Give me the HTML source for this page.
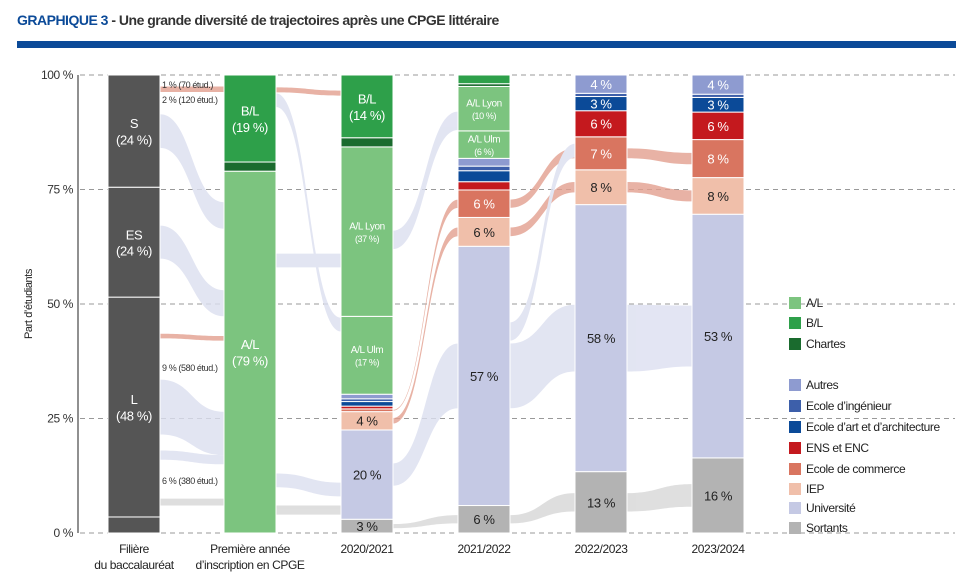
<!DOCTYPE html>
<html><head><meta charset="utf-8">
<style>
body{margin:0;background:#fff;width:963px;height:576px;overflow:hidden;font-family:"Liberation Sans Narrow","Liberation Sans",sans-serif;}
#title{position:absolute;left:17px;top:12px;font-size:14px;font-weight:bold;color:#333;letter-spacing:-0.5px}
#title span{color:#0b4a98}
#rule{position:absolute;left:17px;top:41px;width:939px;height:7px;background:#0b4a98}
svg{position:absolute;left:0;top:0}
svg text{letter-spacing:-0.4px}
</style></head><body>
<div id="title"><span>GRAPHIQUE 3</span> - Une grande diversité de trajectoires après une CPGE littéraire</div>
<div id="rule"></div>
<svg id="chart" width="963" height="576"></svg>
<script>
const columns=["Filière|du baccalauréat","Première année|d’inscription en CPGE","2020/2021","2021/2022","2022/2023","2023/2024"];
const col0Cats=["Autre","L","ES","S"];
const col0Vals=[3.5,48,24,24.5];
const col0Labels=["","L|(48 %)","ES|(24 %)","S|(24 %)"];
const col1Cats=["A/L","Chartes","B/L"];
const col1Vals=[79,2,19];
const col1Labels=["A/L|(79 %)","","B/L|(19 %)"];
const col2Cats=["Sortants","Université","IEP","Ecole de commerce","ENS et ENC","Ecole d’art","Ecole d’ingénieur","Autres","A/L Ulm","A/L Lyon","Chartes","B/L"];
const col2Vals=[3,19.5,4,0.6,0.6,1,0.6,1,17,37,2,13.7];
const col2Labels=["3 %","20 %","4 %","","","","","","A/L Ulm|(17 %)","A/L Lyon|(37 %)","","B/L|(14 %)"];
const col3Cats=["Sortants","Université","IEP","Ecole de commerce","ENS et ENC","Ecole d’art","Ecole d’ingénieur","Autres","A/L Ulm","A/L Lyon","Chartes","B/L"];
const col3Vals=[6,56.6,6.3,6,1.8,2.4,1,1.7,6,9.7,0.6,1.9];
const col3Labels=["6 %","57 %","6 %","6 %","","","","","A/L Ulm|(6 %)","A/L Lyon|(10 %)","",""];
const col4Cats=["Sortants","Université","IEP","Ecole de commerce","ENS et ENC","Ecole d’art","Ecole d’ingénieur","Autres"];
const col4Vals=[13.4,58.3,7.6,7.2,5.7,3.1,0.7,4];
const col4Labels=["13 %","58 %","8 %","7 %","6 %","3 %","","4 %"];
const col5Cats=["Sortants","Université","IEP","Ecole de commerce","ENS et ENC","Ecole d’art","Ecole d’ingénieur","Autres"];
const col5Vals=[16.4,53.2,8,8.3,6,3.2,0.7,4.2];
const col5Labels=["16 %","53 %","8 %","8 %","6 %","3 %","","4 %"];
const yTicks=[0,25,50,75,100];
const legendCats=["A/L","B/L","Chartes","","Autres","Ecole d’ingénieur","Ecole d’art et d’architecture","ENS et ENC","Ecole de commerce","IEP","Université","Sortants"];

const colors={"Autre":"#555555","L":"#555555","ES":"#555555","S":"#555555","A/L":"#7cc47f","A/L Ulm":"#7cc47f","A/L Lyon":"#7cc47f","B/L":"#2ea04a","Chartes":"#1a6b2e","Autres":"#8e9bd0","Ecole d’ingénieur":"#3d5faa","Ecole d’art":"#0b4a98","Ecole d’art et d’architecture":"#0b4a98","ENS et ENC":"#c4191e","Ecole de commerce":"#d97560","IEP":"#f0bfaa","Université":"#c5c9e4","Sortants":"#b3b3b3"};
const darkText={"IEP":1,"Université":1,"Sortants":1};
const Y0=533,Y1=75;
function y(v){return Y0-(Y0-Y1)*v/100;}
const colX=[108,224,341,458,575,692],BW=52;
const svg=document.getElementById('chart');
const NS="http://www.w3.org/2000/svg";
function el(t,a,p){const e=document.createElementNS(NS,t);for(const k in a)e.setAttribute(k,a[k]);(p||svg).appendChild(e);return e;}

const gGrid=el('g',{});
yTicks.forEach(t=>{
  const l=el('line',{x1:80,x2:955,y1:y(t),y2:y(t),stroke:'#999','stroke-dasharray':'5,4','stroke-width':1},gGrid);
  
  
  const tx=el('text',{x:73,y:y(t)+4,'text-anchor':'end','font-size':12,fill:'#333'},gGrid);
  tx.textContent=t+' %';
  
  
});
const ax=el('line',{x1:78,x2:78,y1:y(100),y2:y(0),stroke:'#222','stroke-width':1});


const yt=el('text',{x:0,y:0,transform:'translate(32,304) rotate(-90)','text-anchor':'middle','font-size':11,fill:'#222'});
yt.textContent='Part d’étudiants';



const cols=[[col0Cats,col0Vals,col0Labels],[col1Cats,col1Vals,col1Labels],[col2Cats,col2Vals,col2Labels],[col3Cats,col3Vals,col3Labels],[col4Cats,col4Vals,col4Labels],[col5Cats,col5Vals,col5Labels]];
const pos=cols.map(c=>{let acc=0;const m={};c[0].forEach((k,i)=>{m[k]=[acc,acc+c[1][i]];acc+=c[1][i];});return m;});

const gFlow=el('g',{opacity:0.8});
function ribbon(ci,a,b,color){
  const x0=colX[ci]+BW,x1=colX[ci+1],mx=(x0+x1)/2;
  const p=`M${x0},${y(a[1])} C${mx},${y(a[1])} ${mx},${y(b[1])} ${x1},${y(b[1])} L${x1},${y(b[0])} C${mx},${y(b[0])} ${mx},${y(a[0])} ${x0},${y(a[0])} Z`;
  const r=el('path',{d:p,fill:color},gFlow);
  
  
}
function shrink(s,f){const c=(s[0]+s[1])/2,h=(s[1]-s[0])*f/2;return [c-h,c+h];}
[['S',0.3],['ES',0.3],['L',0.25]].forEach(([k,f])=>{const s=pos[0][k];ribbon(0,shrink(s,f),shrink([s[0]*0.79,s[1]*0.79],f),'#dcdff0');});
ribbon(0,[96.3,97.5],[96.3,97.5],'#e3a08f');
ribbon(0,[42.5,43.5],[42,43],'#e3a08f');
ribbon(0,[6,7.5],[6,7.5],'#d7d7d7');
ribbon(0,[16,18],[15,17],'#dcdff0');
ribbon(1,[93,96],[44,47],'#dcdff0');
ribbon(1,[58,61],[58,61],'#dcdff0');
ribbon(1,[96.2,97.3],[95.5,96.6],'#e3a08f');
ribbon(1,[4,6],[4,6],'#d7d7d7');
ribbon(1,[10,13],[8,11],'#dcdff0');
[2,3,4].forEach(ci=>{
  ["Sortants","Université","IEP","Ecole de commerce"].forEach(k=>{
    const a=pos[ci][k],b=pos[ci+1][k];if(!a||!b)return;
    const f=k==="Université"?0.25:0.3;
    ribbon(ci,shrink(a,f),shrink(b,f),k==="Université"?'#dcdff0':k==="Sortants"?'#d7d7d7':'#e3a08f');
  });
});
ribbon(2,[62,66],[88,92],'#dcdff0');
ribbon(3,[42,46],[82,85],'#dcdff0');

cols.forEach((c,ci)=>{
  const g=el('g',{});
  
  
  c[0].forEach((k,i)=>{
    const [a,b]=pos[ci][k];
    const r=el('rect',{x:colX[ci],y:y(b),width:BW,height:y(a)-y(b),fill:colors[k],stroke:'#fff','stroke-width':1},g);
    
    
    const lab=c[2][i];
    if(lab){
      const lines=lab.split('|');
      const small=k.startsWith('A/L ')&&ci>=2;
      const fs=small?10:13;
      const cy=(y(a)+y(b))/2-(lines.length-1)*fs*0.6;
      lines.forEach((ln,j)=>{
        const t=el('text',{x:colX[ci]+BW/2,y:cy+j*fs*1.25+fs*0.38,'text-anchor':'middle','font-size':(small&&j==1)?9:fs,fill:darkText[k]?'#222':'#fff'},g);
        t.textContent=ln;
        
        
      });
    }
  });
  const lines=columns[ci].split('|');
  lines.forEach((ln,j)=>{
    const t=el('text',{x:colX[ci]+BW/2,y:553+j*16,'text-anchor':'middle','font-size':12,fill:'#222'});
    t.textContent=ln;
    
    
  });
});
[["1 % (70 étud.)",88],["2 % (120 étud.)",103],["9 % (580 étud.)",371],["6 % (380 étud.)",484]].forEach(([s,yy])=>{
  const t=el('text',{x:162,y:yy,'font-size':9,fill:'#333'});
  t.textContent=s;
  
  
});
const lg=el('g',{});


const ly=[303,323,344,0,385,406,427,448,469,489,508,528];
legendCats.forEach((k,i)=>{
  if(!k)return;
  const g=el('g',{},lg);
  
  
  el('rect',{x:789,y:ly[i]-6,width:12,height:12,fill:colors[k]},g);
  const t=el('text',{x:806,y:ly[i]+4,'font-size':12,fill:'#222'},g);
  t.textContent=k;
});
</script>
</body></html>
